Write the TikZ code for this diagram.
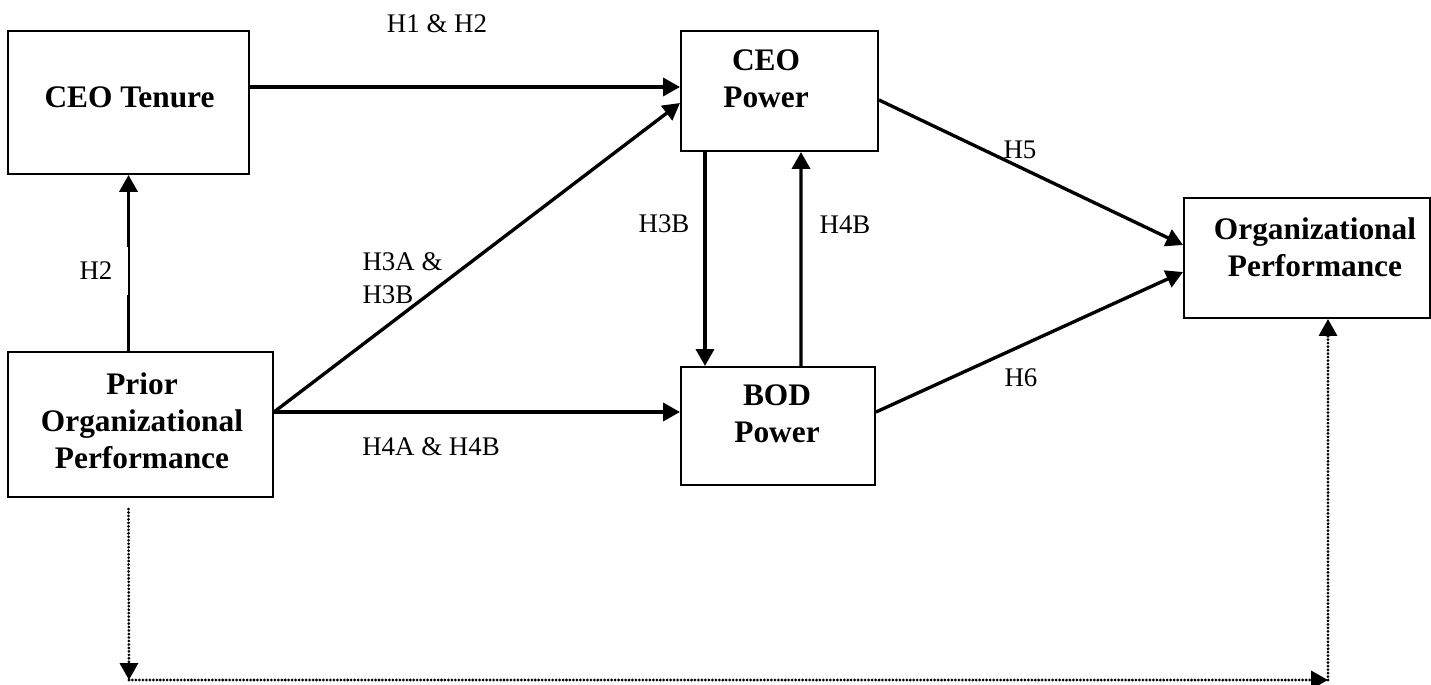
\documentclass[tikz,border=0pt]{standalone}
\usepackage{fontspec}
\setmainfont{Liberation Serif}
\usetikzlibrary{arrows.meta,calc}
\newcommand\pxu{0.4464pt}

\begin{document}
\begin{tikzpicture}[x=\pxu,y=-\pxu,
    box/.style={draw,line width=0.9pt,inner sep=0pt},
    boxtext/.style={font=\fontsize{14}{16.5}\selectfont\bfseries,align=center,inner sep=0pt},
    lbl/.style={font=\fontsize{12}{14.7}\selectfont,inner sep=0pt},
    link/.style={line width=1.5pt,-{Triangle[length=7.5pt,width=8pt]}},
    dotlink/.style={line width=1.35pt,line cap=round,dash pattern=on 0pt off 1.55pt,-{Triangle[length=7.5pt,width=8pt]}}]
  \useasboundingbox (0,0) rectangle (1431,685);

  % boxes
  \node[box,minimum width=241*\pxu,minimum height=143*\pxu] (tenure) at (128.5,102.5) {};
  \node[box,minimum width=265*\pxu,minimum height=145*\pxu] (prior) at (140.5,424.5) {};
  \node[box,minimum width=197*\pxu,minimum height=120*\pxu] (ceo) at (779.5,91) {};
  \node[box,minimum width=194*\pxu,minimum height=118*\pxu] (bod) at (778,426) {};
  \node[box,minimum width=246*\pxu,minimum height=120*\pxu] (orgperf) at (1307,258) {};

  \node[boxtext] (tenuretext) at (129.5,97) {CEO Tenure};
  \node[boxtext] (priortext) at (142,420.5) {Prior\\Organizational\\Performance};
  \node[boxtext] (ceotext) at (766,79) {CEO\\Power};
  \node[boxtext] (bodtext) at (777,414) {BOD\\Power};
  \node[boxtext] (orgtext) at (1315,247.5) {Organizational\\Performance};

  % paths
  \draw[link] ($(tenure.east)+(0,-15.5)$) -- ($(tenure.east -| ceo.west)+(0,-15.5)$);
  \draw[link] (prior.north -| tenure.south) -- (tenure.south);
  \draw[link] ($(prior.east)+(0,-12.5)$) -- ($(ceo.west)+(0,12)$);
  \draw[link] ($(prior.east)+(0,-12.5)$) -- ($(prior.east -| bod.west)+(0,-12.5)$);
  \draw[link] ($(ceo.south)+(-74.5,0)$) -- ($(bod.north)+(-73,0)$);
  \draw[link] ($(bod.north)+(23,0)$) -- ($(ceo.south)+(21.5,0)$);
  \draw[link] ($(ceo.east)+(0,9)$) -- ($(orgperf.west)+(0,-13)$);
  \draw[link] ($(bod.east)+(0,-14)$) -- ($(orgperf.west)+(0,14)$);

  \coordinate (dl) at (129,680);
  \coordinate (dr) at (1328,680);
  \draw[dotlink] ($(prior.south -| tenure.south)+(0,11)$) -- (dl);
  \draw[dotlink] (dl) -- (dr);
  \draw[dotlink] (dr) -- (dr |- orgperf.south);

  % labels
  \node[lbl] (h12) at (437,24) {H1 \& H2};
  \node[lbl,fill=white,anchor=east,text width=48*\pxu,align=left,minimum height=48*\pxu] (h2) at (128,271) {H2};
  \node[lbl,align=left] (h3ab) at (402.5,278) {H3A \&\\H3B};
  \node[lbl] (h4ab) at (431,447) {H4A \& H4B};
  \node[lbl] (h3b) at (664,224) {H3B};
  \node[lbl] (h4b) at (845,225) {H4B};
  \node[lbl] (h5) at (1020,150) {H5};
  \node[lbl] (h6) at (1021,378) {H6};
\end{tikzpicture}
\end{document}
